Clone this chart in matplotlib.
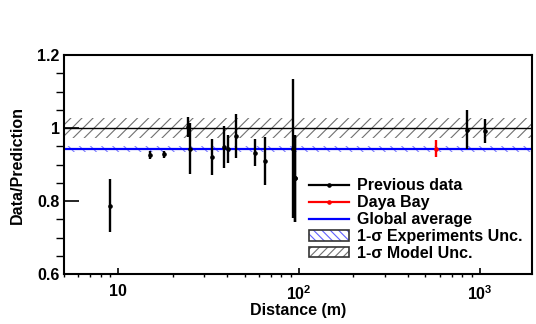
import numpy as np
import matplotlib.pyplot as plt
from matplotlib.lines import Line2D
from matplotlib.patches import Patch
from matplotlib.ticker import FixedLocator, MultipleLocator, LogLocator, NullFormatter

plt.rcParams["font.family"] = ["Liberation Sans", "DejaVu Sans"]
plt.rcParams["font.weight"] = "bold"
plt.rcParams["mathtext.fontset"] = "custom"
plt.rcParams["mathtext.rm"] = "Liberation Sans:bold"
plt.rcParams["mathtext.bf"] = "Liberation Sans:bold"
plt.rcParams["hatch.linewidth"] = 0.8

# Previous reactor experiments
prev_dist = [9.0, 15.0, 18.0, 24.3, 24.8, 33.0, 38.3, 40.3, 45.1, 56.9, 65.2,
             92.3, 94.6, 95.6, 853.0, 1069.0]
prev_ratio = [0.787, 0.926, 0.928, 1.003, 0.944, 0.920, 0.949, 0.942, 0.978,
              0.933, 0.910, 0.944, 0.862, 0.862, 0.996, 0.993]
prev_err = [0.073, 0.010, 0.010, 0.027, 0.071, 0.049, 0.058, 0.039, 0.060,
            0.038, 0.066, 0.190, 0.120, 0.120, 0.053, 0.033]

# Daya Bay
dyb_dist = [571.0]
dyb_ratio = [0.944]
dyb_err = [0.023]

global_avg = 0.943
global_unc = 0.008
model_center = 1.0
model_unc = 0.027

x_range = [5, 1950]

fig = plt.figure(figsize=(5.36, 3.24), dpi=100)
ax = fig.add_axes([0.119, 0.154, 0.874, 0.676])

# model band
ax.fill_between(x_range, model_center - model_unc, model_center + model_unc,
                facecolor="none", edgecolor="#707070", hatch="///", linewidth=0)
ax.plot(x_range, [model_center] * 2, color="black", linewidth=1.0)

# global average band
ax.fill_between(x_range, global_avg - global_unc, global_avg + global_unc,
                facecolor="none", edgecolor="#8080ff", hatch="\\\\\\", linewidth=0)
ax.plot(x_range, [global_avg] * 2, color="blue", linewidth=1.6)

ax.errorbar(prev_dist, prev_ratio, yerr=prev_err, fmt="o", color="black",
            markersize=2.3, elinewidth=1.7, capsize=0)
ax.errorbar(dyb_dist, dyb_ratio, yerr=dyb_err, fmt="o", color="red",
            markersize=2.3, elinewidth=1.7, capsize=0)

ax.set_xscale("log")
ax.set_xlim(x_range)
ax.set_ylim(0.6, 1.2)

ax.xaxis.set_major_locator(FixedLocator([10, 100, 1000]))
ax.set_xticklabels(["10", r"$10^2$", r"$10^3$"])
ax.xaxis.set_minor_locator(LogLocator(base=10, subs=np.arange(2, 10)))
ax.xaxis.set_minor_formatter(NullFormatter())
ax.yaxis.set_major_locator(MultipleLocator(0.2))
ax.yaxis.set_minor_locator(MultipleLocator(0.05))
ax.yaxis.set_major_formatter(plt.FuncFormatter(lambda v, p: f"{v:g}"))

ax.tick_params(axis="both", direction="in", labelsize=11.5, width=1.2)
ax.tick_params(axis="y", which="major", length=11, pad=3)
ax.tick_params(axis="y", which="minor", length=6, width=1.0)
ax.tick_params(axis="x", which="major", length=4.5, pad=7)
ax.tick_params(axis="x", which="minor", length=2.5, width=1.0)
for s in ax.spines.values():
    s.set_linewidth(1.5)

ax.set_xlabel("Distance (m)", fontsize=11.5, fontweight="bold", labelpad=0)
ax.set_ylabel("Data/Prediction", fontsize=11.5, fontweight="bold", labelpad=9)

handles = [
    Line2D([], [], color="black", marker="o", markersize=2.3, linewidth=1.6),
    Line2D([], [], color="red", marker="o", markersize=2.3, linewidth=1.6),
    Line2D([], [], color="blue", linewidth=1.6),
    (Patch(facecolor="white", edgecolor="#6060ff", hatch="\\\\\\\\", linewidth=0),
     Patch(facecolor="none", edgecolor="#333333", linewidth=1.2)),
    (Patch(facecolor="white", edgecolor="#707070", hatch="////", linewidth=0),
     Patch(facecolor="none", edgecolor="#333333", linewidth=1.2)),
]
labels = ["Previous data", "Daya Bay", "Global average",
          "1-\u03c3 Experiments Unc.", "1-\u03c3 Model Unc."]
ax.legend(handles, labels, loc="upper left", bbox_to_anchor=(0.523, 0.437),
          frameon=False, borderpad=0, borderaxespad=0, handlelength=2.5,
          handleheight=0.6, handletextpad=0.5, labelspacing=0.12,
          prop={"weight": "bold", "size": 11.5})

fig.savefig("out.png", dpi=100)
